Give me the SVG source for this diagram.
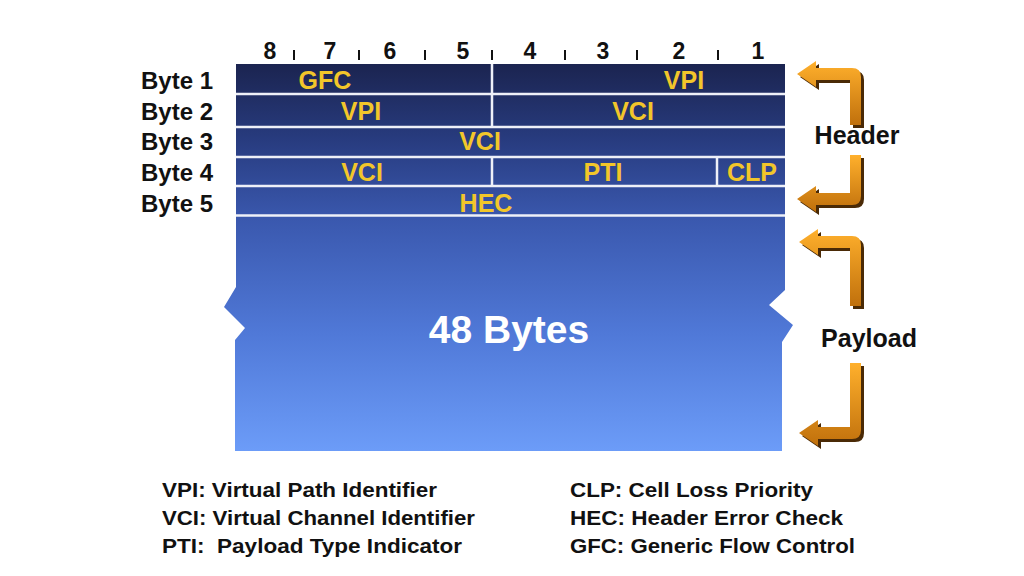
<svg xmlns="http://www.w3.org/2000/svg" width="1024" height="576" viewBox="0 0 1024 576">
<style>
.bit{font-family:"Liberation Sans",Arial,sans-serif;font-size:23px;font-weight:bold;fill:#111;text-anchor:middle}
.byte{font-family:"Liberation Sans",Arial,sans-serif;font-size:24px;font-weight:bold;fill:#111;text-anchor:end}
.fld{font-family:"Liberation Sans",Arial,sans-serif;font-size:25px;font-weight:bold;fill:#f2c62a;text-anchor:middle}
.big{font-family:"Liberation Sans",Arial,sans-serif;font-size:39px;font-weight:bold;fill:#ffffff;text-anchor:middle}
.side{font-family:"Liberation Sans",Arial,sans-serif;font-size:25px;font-weight:bold;fill:#111;text-anchor:middle}
.leg{font-family:"Liberation Sans",Arial,sans-serif;font-size:21px;font-weight:bold;fill:#111}
.tick{stroke:#111;stroke-width:2}
.sep{stroke:#eef0f8;stroke-width:2.5}
.arr{fill:url(#og)}
.shd{fill:#4a2a06}
</style>
<defs>
<linearGradient id="bg" gradientUnits="userSpaceOnUse" x1="0" y1="64" x2="0" y2="451">
<stop offset="0" stop-color="#1b2450"/>
<stop offset="0.2" stop-color="#283c80"/>
<stop offset="0.4" stop-color="#3a58ae"/>
<stop offset="0.7" stop-color="#5079d8"/>
<stop offset="1" stop-color="#6c9cf8"/>
</linearGradient>
<linearGradient id="og" x1="0" y1="0" x2="0" y2="1">
<stop offset="0" stop-color="#ffb02c"/>
<stop offset="1" stop-color="#c0700c"/>
</linearGradient>
</defs>
<rect width="1024" height="576" fill="#ffffff"/>

<g id="bit-numbers">
<text class="bit" x="270" y="59">8</text>
<text class="bit" x="330" y="59">7</text>
<text class="bit" x="390" y="59">6</text>
<text class="bit" x="463" y="59">5</text>
<text class="bit" x="530" y="59">4</text>
<text class="bit" x="603" y="59">3</text>
<text class="bit" x="679" y="59">2</text>
<text class="bit" x="758" y="59">1</text>
<line class="tick" x1="294" y1="50" x2="294" y2="60"/>
<line class="tick" x1="359" y1="50" x2="359" y2="60"/>
<line class="tick" x1="425" y1="50" x2="425" y2="60"/>
<line class="tick" x1="492" y1="50" x2="492" y2="60"/>
<line class="tick" x1="565" y1="50" x2="565" y2="60"/>
<line class="tick" x1="637" y1="50" x2="637" y2="60"/>
<line class="tick" x1="718" y1="50" x2="718" y2="60"/>
</g>

<g id="byte-labels">
<text class="byte" x="213" y="89">Byte 1</text>
<text class="byte" x="213" y="120">Byte 2</text>
<text class="byte" x="213" y="150">Byte 3</text>
<text class="byte" x="213" y="181">Byte 4</text>
<text class="byte" x="213" y="212">Byte 5</text>
</g>

<g id="cell">
<path d="M236,64 L785,64 L785,290 L769,305 L793,325 L782,342 L782,451 L235,451 L235,340 L245,328 L224,307 L236,287 Z" fill="url(#bg)"/>
<line class="sep" x1="236" y1="94" x2="785" y2="94"/>
<line class="sep" x1="236" y1="127" x2="785" y2="127"/>
<line class="sep" x1="236" y1="157" x2="785" y2="157"/>
<line class="sep" x1="236" y1="186" x2="785" y2="186"/>
<line class="sep" x1="236" y1="215.5" x2="785" y2="215.5"/>
<line class="sep" x1="492" y1="64" x2="492" y2="127"/>
<line class="sep" x1="492" y1="157" x2="492" y2="186"/>
<line class="sep" x1="717" y1="157" x2="717" y2="186"/>
</g>

<g id="fields">
<text class="fld" x="325" y="89">GFC</text>
<text class="fld" x="684" y="89">VPI</text>
<text class="fld" x="361" y="120">VPI</text>
<text class="fld" x="633" y="120">VCI</text>
<text class="fld" x="480" y="150">VCI</text>
<text class="fld" x="362" y="181">VCI</text>
<text class="fld" x="603" y="181">PTI</text>
<text class="fld" x="752" y="181">CLP</text>
<text class="fld" x="486" y="212">HEC</text>
<text class="big" x="509" y="343">48 Bytes</text>
</g>

<g id="connectors">
<g transform="translate(3,3)">
<path class="shd" d="M797,74 L816,61 L816,68 L852,68 Q861,68 861,77 L861,125 L850,125 L850,80 L816,80 L816,87 Z"/>
<path class="shd" d="M797,199 L816,186 L816,193 L850,193 L850,155 L861,155 L861,196 Q861,205 852,205 L816,205 L816,212 Z"/>
<path class="shd" d="M799,242 L818,229 L818,236 L852,236 Q861,236 861,245 L861,306 L850,306 L850,248 L818,248 L818,255 Z"/>
<path class="shd" d="M799,433 L818,420 L818,427 L850,427 L850,363 L861,363 L861,430 Q861,439 852,439 L818,439 L818,446 Z"/>
</g>
<path class="arr" d="M797,74 L816,61 L816,68 L852,68 Q861,68 861,77 L861,125 L850,125 L850,80 L816,80 L816,87 Z"/>
<path class="arr" d="M797,199 L816,186 L816,193 L850,193 L850,155 L861,155 L861,196 Q861,205 852,205 L816,205 L816,212 Z"/>
<path class="arr" d="M799,242 L818,229 L818,236 L852,236 Q861,236 861,245 L861,306 L850,306 L850,248 L818,248 L818,255 Z"/>
<path class="arr" d="M799,433 L818,420 L818,427 L850,427 L850,363 L861,363 L861,430 Q861,439 852,439 L818,439 L818,446 Z"/>
</g>

<g id="header-label"><text class="side" x="857" y="144">Header</text></g>
<g id="payload-label"><text class="side" x="869" y="347">Payload</text></g>

<g id="legend">
<text class="leg" x="162" y="497" textLength="275" lengthAdjust="spacingAndGlyphs">VPI: Virtual Path Identifier</text>
<text class="leg" x="162" y="525" textLength="313" lengthAdjust="spacingAndGlyphs">VCI: Virtual Channel Identifier</text>
<text class="leg" x="162" y="553" xml:space="preserve" textLength="300" lengthAdjust="spacingAndGlyphs">PTI:  Payload Type Indicator</text>
<text class="leg" x="570" y="497" textLength="243" lengthAdjust="spacingAndGlyphs">CLP: Cell Loss Priority</text>
<text class="leg" x="570" y="525" textLength="273" lengthAdjust="spacingAndGlyphs">HEC: Header Error Check</text>
<text class="leg" x="570" y="553" textLength="285" lengthAdjust="spacingAndGlyphs">GFC: Generic Flow Control</text>
</g>
</svg>
